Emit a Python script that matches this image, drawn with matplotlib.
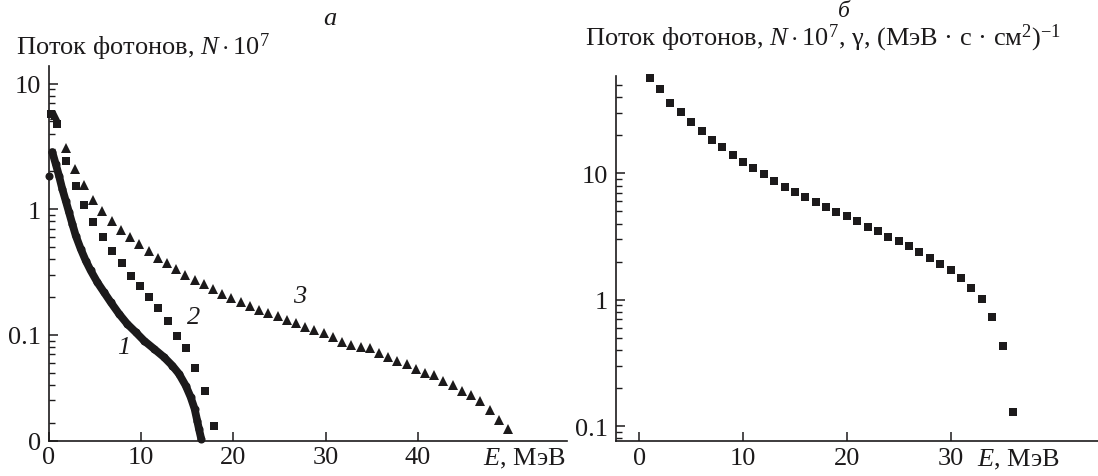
import matplotlib
matplotlib.use('Agg')
import matplotlib.pyplot as plt
from matplotlib.ticker import LogLocator, NullFormatter, FixedLocator, FixedFormatter

plt.rcParams['font.family'] = ['Liberation Serif', 'DejaVu Serif']
plt.rcParams['mathtext.fontset'] = 'custom'
plt.rcParams['mathtext.rm'] = 'Liberation Serif'
plt.rcParams['mathtext.it'] = 'Liberation Serif:italic'
plt.rcParams['mathtext.bf'] = 'Liberation Serif:bold'
plt.rcParams['axes.unicode_minus'] = True

# ---------------- data: panel a ----------------
E1 = [0.0, 0.36, 0.73, 1.08, 1.44, 1.81, 2.17, 2.53, 2.90, 3.44, 3.98, 4.52, 5.24,
      5.97, 6.69, 7.59, 8.49, 9.40, 10.30, 11.39, 12.47, 13.37, 14.10, 14.83,
      15.37, 15.80, 16.08, 16.27, 16.52]
N1 = [1.85, 2.84, 2.29, 1.85, 1.45, 1.17, 0.946, 0.764, 0.616, 0.483, 0.390, 0.325,
      0.262, 0.218, 0.182, 0.147, 0.122, 0.105, 0.0899, 0.0773, 0.0664, 0.0569,
      0.0489, 0.0394, 0.0319, 0.0257, 0.0207, 0.0178, 0.0148]

E2 = [0.22, 0.84, 1.84, 2.93, 3.83, 4.80, 5.89, 6.80, 7.88, 8.86, 9.87, 10.88, 11.85,
      12.87, 13.85, 14.86, 15.87, 16.89, 17.90]
N2 = [5.74, 4.78, 2.44, 1.54, 1.07, 0.788, 0.598, 0.468, 0.373, 0.296, 0.244, 0.199,
      0.163, 0.128, 0.0986, 0.0782, 0.0548, 0.0360, 0.0187]

E3 = [0.7, 1.8, 2.8, 3.8, 4.8, 5.8, 6.8, 7.8, 8.8, 9.8, 10.8, 11.8, 12.8, 13.8, 14.8,
      15.8, 16.8, 17.8, 18.8, 19.8, 20.8, 21.8, 22.8, 23.8, 24.8, 25.8, 26.8, 27.8,
      28.8, 29.8, 30.8, 31.8, 32.8, 33.8, 34.8, 35.8, 36.8, 37.8, 38.8, 39.8, 40.8,
      41.8, 42.8, 43.8, 44.8, 45.8, 46.8, 47.8, 48.8, 49.8]
N3 = [5.57, 3.07, 2.10, 1.55, 1.18, 0.96, 0.80, 0.68, 0.604, 0.525, 0.465, 0.411,
      0.371, 0.334, 0.299, 0.273, 0.252, 0.231, 0.213, 0.198, 0.183, 0.168, 0.158,
      0.149, 0.142, 0.132, 0.124, 0.1145, 0.1084, 0.1026, 0.0959, 0.088, 0.0833,
      0.0798, 0.078, 0.0716, 0.0665, 0.0622, 0.0585, 0.0537, 0.0497, 0.0476, 0.0431,
      0.0401, 0.0357, 0.0334, 0.0296, 0.0251, 0.021, 0.0179]

xticks_a = [0, 10, 20, 30, 40]
yticks_a = [0.0144, 0.1, 1, 10]
ylabels_a = ['0', '0.1', '1', '10']

# ---------------- data: panel b ----------------
Eb = [1, 2, 3, 4, 5, 6, 7, 8, 9, 10, 11, 12, 13, 14, 15, 16, 17, 18, 19, 20, 21, 22,
      23, 24, 25, 26, 27, 28, 29, 30, 31, 32, 33, 34, 35, 36]
Nb = [57.1, 46.4, 36.0, 30.4, 25.3, 21.5, 18.3, 16.1, 14.0, 12.4, 11.0, 9.87, 8.74,
      7.83, 7.15, 6.50, 5.90, 5.38, 4.97, 4.57, 4.17, 3.78, 3.48, 3.12, 2.91, 2.65,
      2.40, 2.14, 1.92, 1.71, 1.49, 1.23, 1.01, 0.726, 0.428, 0.129]

xticks_b = [0, 10, 20, 30]
yticks_b = [0.1, 1, 10]
ylabels_b = ['0.1', '1', '10']

K = '#1c1a1b'
FS = 19
W, H = 1098, 477

fig = plt.figure(figsize=(W / 100, H / 100), dpi=100)


def px(l, t, r, b):
    return [l / W, 1 - b / H, (r - l) / W, (b - t) / H]


def style(ax):
    for s in ('top', 'right'):
        ax.spines[s].set_visible(False)
    for s in ('left', 'bottom'):
        ax.spines[s].set_linewidth(1.2)
        ax.spines[s].set_color(K)
    ax.set_yscale('log')
    ax.tick_params(which='major', direction='in', length=6.5, width=1.1,
                   labelsize=FS, colors=K)
    ax.tick_params(axis='x', which='major', pad=4)
    ax.tick_params(axis='y', which='major', pad=6)
    ax.tick_params(which='minor', direction='in', length=4.2, width=1.0, colors=K)
    ax.tick_params(axis='x', which='minor', length=0)
    ax.patch.set_alpha(0)


axa = fig.add_axes(px(49, 67, 567, 441.5))
style(axa)
axa.set_xlim(0, 56.2)
axa.set_ylim(0.0144, 13.8)
axa.plot(E1[1:], N1[1:], '-', color=K, lw=5.6, solid_capstyle='round',
         solid_joinstyle='round', clip_on=False)
axa.plot(E1, N1, 'o', color=K, ms=5.8, mew=0, clip_on=False)
axa.plot(E2, N2, 's', color=K, ms=5.5, mew=0, clip_on=False)
axa.plot(E3, N3, '^', color=K, ms=7.0, mew=0, clip_on=False)
axa.xaxis.set_major_locator(FixedLocator(xticks_a))
axa.yaxis.set_major_locator(FixedLocator(yticks_a))
axa.yaxis.set_major_formatter(FixedFormatter(ylabels_a))
axa.yaxis.set_minor_locator(LogLocator(base=10, subs=range(2, 10), numticks=50))
axa.yaxis.set_minor_formatter(NullFormatter())
axa.annotate('$E$, МэВ', xy=(47.07, 0), xycoords=('data', 'axes fraction'),
             xytext=(0, -4), textcoords='offset points', ha='left', va='top',
             fontsize=FS, color=K)

axb = fig.add_axes(px(616, 77, 1098, 442))
style(axb)
axb.set_xlim(-2.24, 44.2)
axb.set_ylim(0.0762, 58.9)
axb.plot(Eb, Nb, 's', color=K, ms=5.8, mew=0, clip_on=False)
axb.xaxis.set_major_locator(FixedLocator(xticks_b))
axb.yaxis.set_major_locator(FixedLocator(yticks_b))
axb.yaxis.set_major_formatter(FixedFormatter(ylabels_b))
axb.yaxis.set_minor_locator(LogLocator(base=10, subs=range(2, 10), numticks=50))
axb.yaxis.set_minor_formatter(NullFormatter())
axb.annotate('$E$, МэВ', xy=(32.5, 0), xycoords=('data', 'axes fraction'),
             xytext=(0, -4), textcoords='offset points', ha='left', va='top',
             fontsize=FS, color=K)

# titles and panel letters
fig.text(16 / W, 1 - 55 / H, 'Поток фотонов, $N\\cdot 10^{7}$', fontsize=FS,
         ha='left', va='baseline', color=K)
fig.text(585 / W, 1 - 45 / H,
         'Поток фотонов, $N\\cdot 10^{7}$, γ, (МэВ · с · см$^{2}$)$^{-1}$',
         fontsize=FS, ha='left', va='baseline', color=K)
fig.text(330 / W, 1 - 25 / H, 'а', fontsize=FS, style='italic', ha='center',
         va='baseline', color=K)
fig.text(844 / W, 1 - 17 / H, 'б', fontsize=17, style='italic', ha='center',
         va='baseline', color=K)

# curve numbers
for txt, (x, y) in zip(['1', '2', '3'], [(123.3, 348.3), (193.3, 318.3), (300, 296.7)]):
    fig.text(x / W, 1 - y / H, txt, fontsize=FS, style='italic', ha='center',
             va='center', color=K)

fig.savefig('out.png', dpi=100)
